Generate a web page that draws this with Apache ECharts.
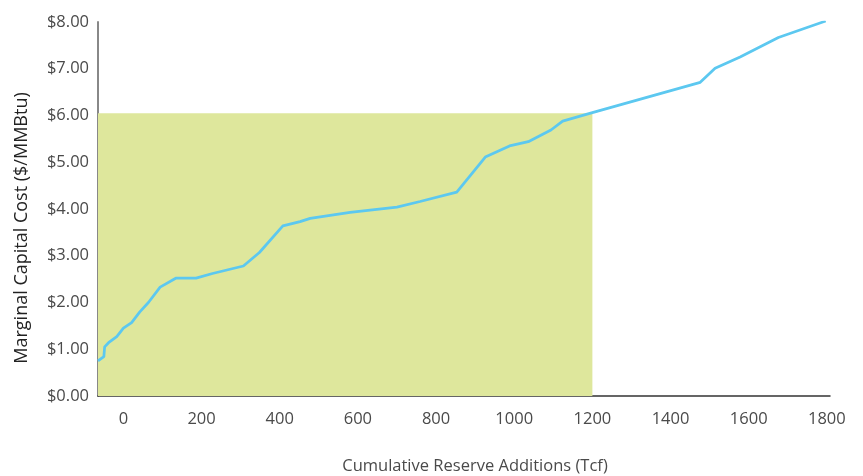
<!DOCTYPE html>
<html>
<head>
<meta charset="utf-8">
<script src="https://cdn.jsdelivr.net/npm/echarts@6/dist/echarts.min.js"></script>
<style>html,body{margin:0;padding:0;background:#fff}#c{width:863px;height:476px}</style>
</head>
<body>
<div id="c"></div>
<script>
// Cumulative reserve additions (Tcf)
var reserveX = [-65, -50, -48, -38, -17, 0, 21, 42, 64, 94, 134, 186, 228, 307, 348, 408, 452, 478, 580, 700, 759, 853, 926, 988, 1036, 1094, 1124, 1200, 1476, 1514, 1578, 1676, 1797];
// Marginal capital cost ($/MMBtu)
var costY = [0.75, 0.84, 1.05, 1.14, 1.27, 1.45, 1.57, 1.80, 2.00, 2.33, 2.52, 2.52, 2.62, 2.78, 3.07, 3.64, 3.73, 3.80, 3.93, 4.04, 4.16, 4.36, 5.11, 5.35, 5.44, 5.69, 5.88, 6.06, 6.71, 7.01, 7.25, 7.67, 8.02];
// Shaded region
var shadeXRange = [-65, 1200];
var shadeTop = 6.05;
// Tick labels
var xTicks = [0, 200, 400, 600, 800, 1000, 1200, 1400, 1600, 1800];
var xTitle = 'Cumulative Reserve Additions (Tcf)';
var yTitle = 'Marginal Capital Cost ($/MMBtu)';

var lineData = reserveX.map(function (x, i) { return [x, costY[i]]; });
var font = '"Open Sans", "Noto Sans", sans-serif';
var chart = echarts.init(document.getElementById('c'), null, {renderer: 'canvas'});
chart.setOption({
  animation: false,
  backgroundColor: '#ffffff',
  grid: {left: 98, right: 33, top: 22, bottom: 80, containLabel: false},
  xAxis: {
    type: 'value', min: -65, max: 1808,
    axisLine: {show: true, onZero: false, lineStyle: {color: '#333333', width: 1.5}},
    axisTick: {show: false},
    splitLine: {show: false},
    axisLabel: {customValues: xTicks, color: '#4a4a4a', fontSize: 16.5, fontFamily: font, margin: 15,
      formatter: function (v) { return String(v); }}
  },
  yAxis: {
    type: 'value', min: 0, max: 8, interval: 1,
    axisLine: {show: true, onZero: false, lineStyle: {color: '#888888', width: 2}},
    axisTick: {show: false},
    splitLine: {show: false},
    axisLabel: {color: '#4a4a4a', fontSize: 16.5, fontFamily: font, margin: 9,
      formatter: function (v) { return '$' + v.toFixed(2); }}
  },
  graphic: [
    {type: 'text', x: 22, y: 228, rotation: Math.PI / 2,
      style: {text: yTitle, fill: '#222222', font: '18px ' + font, textAlign: 'center', textVerticalAlign: 'middle'}},
    {type: 'text', x: 475, y: 466,
      style: {text: xTitle, fill: '#4a4a4a', font: '16.5px ' + font, textAlign: 'center', textVerticalAlign: 'middle'}}
  ],
  series: [{
    type: 'line',
    data: lineData,
    showSymbol: false,
    symbol: 'none',
    lineStyle: {color: '#5cc8f0', width: 2.75},
    z: 3,
    markArea: {
      silent: true,
      itemStyle: {color: '#dee79c', opacity: 1},
      data: [[{coord: [shadeXRange[0], 0]}, {coord: [shadeXRange[1], shadeTop]}]]
    }
  }]
});
</script>
</body>
</html>
